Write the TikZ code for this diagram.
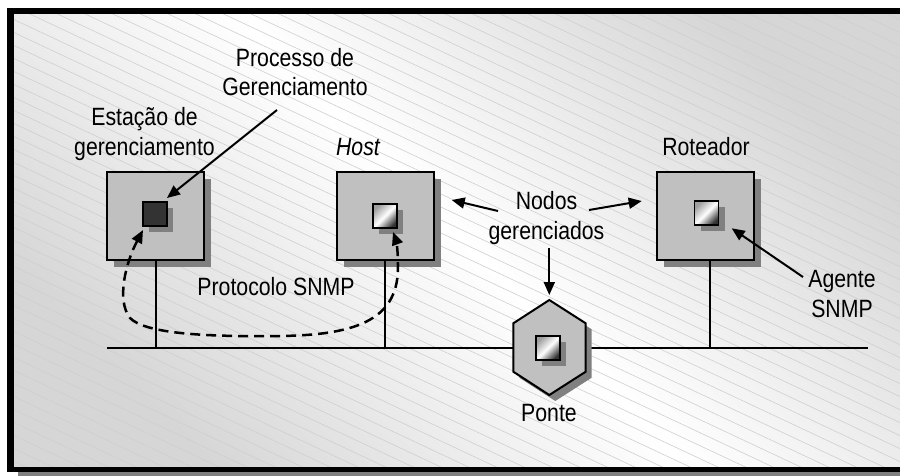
\documentclass[tikz,border=0pt]{standalone}
\usepackage{fontspec}
\setmainfont{Liberation Sans}[FakeStretch=0.85]
\usetikzlibrary{arrows.meta,shadows}

\definecolor{boxgray}{HTML}{C0C0C0}
\definecolor{shadowgray}{HTML}{808080}
\definecolor{bggray}{HTML}{D6D6D6}
\definecolor{darkchip}{HTML}{333333}
\definecolor{hatchgray}{HTML}{CFCFCF}

\begin{document}
\begin{tikzpicture}[x=1pt,y=-1pt,
  font=\fontsize{25}{29.5}\selectfont,
  device/.style={draw=black,line width=2pt,fill=boxgray,
    minimum width=97pt,minimum height=88pt,inner sep=0pt,
    drop shadow={opacity=1,fill=shadowgray,shadow xshift=7pt,shadow yshift=-7pt}},
  chip/.style={draw=black,line width=1.6pt,minimum size=24pt,inner sep=0pt,
    top color=gray!75,bottom color=black!80,middle color=white,shading angle=45,
    drop shadow={opacity=1,fill=shadowgray,shadow xshift=6pt,shadow yshift=-6pt}},
  darkchipbox/.style={chip,fill=darkchip,top color=darkchip,bottom color=darkchip,middle color=darkchip},
  wire/.style={line width=2pt,draw=black},
  label/.style={align=center,inner sep=0pt,anchor=base},
  pointer/.style={line width=2pt,-{Triangle[length=13pt,width=11pt]}},
  snmp/.style={line width=2.5pt,dash pattern=on 10pt off 6pt,
    {Triangle[length=13pt,width=11pt]}-{Triangle[length=13pt,width=11pt]}},
  hatch/.style={draw=hatchgray,line width=0.6pt}
]
\useasboundingbox (0,0) rectangle (900,475);

% frame with its shadow
\fill[shadowgray] (18,14) rectangle (910,476);
\fill[black] (7,8) rectangle (910,472);
\shade[top color=bggray,bottom color=bggray,middle color=white,shading angle=-45]
  (14,14) rectangle (910,466);
\begin{scope}
  \clip (14,14) rectangle (910,466);
  \foreach \k in {-36,...,38}
    \draw[hatch] (0,{\k*13}) -- (920,{\k*13+432});
\end{scope}

% network bus
\coordinate (busl) at (107,347.5);
\coordinate (busr) at (868,347.5);
\draw[wire] (busl) -- (busr);

% devices
\node[device] (sta) at (155.5,216) {};
\node[device] (host) at (385.5,216) {};
\node[device] (rout) at (705,216) {};

\draw[wire] (sta.south) -- (sta.south |- busl);
\draw[wire] ([xshift=-1pt]host.south) -- ([xshift=-1pt]host.south |- busl);
\draw[wire] ([xshift=5pt]rout.south) -- ([xshift=5pt]rout.south |- busl);

% bridge
\coordinate (pontetop) at (549.3,300);
\path[draw=black,line width=2pt,fill=boxgray,
  drop shadow={opacity=1,fill=shadowgray,shadow xshift=6pt,shadow yshift=-6pt}]
  (pontetop) -- (585.7,323.3) -- (585.7,371.7) -- (549.3,395)
  -- (513.3,371.7) -- (513.3,323.3) -- cycle;

% processes and agents
\node[darkchipbox] (proc) at (155,214) {};
\node[chip] (hchip) at (385,216) {};
\node[chip] (rchip) at (706.5,213) {};
\node[chip] (pchip) at (548,348) {};

% labels (two-line labels are placed by the baseline of their last line)
\node[label] (tproc) at (295,95.5) {Processo de\\Gerenciamento};
\node[label] (tsta) at (144.5,155) {Estação de\\gerenciamento};
\node[label] (thost) at (358,155) {\itshape Host};
\node[label] (trout) at (706,155) {Roteador};
\node[label] (tnod) at (546.5,239) {Nodos\\gerenciados};
\node[label] (tprot) at (276,295.7) {Protocolo SNMP};
\node[label] (tag) at (842,317) {Agente\\SNMP};
\node[label] (tponte) at (549,421.7) {Ponte};

% pointers
\coordinate (procfrom) at (277,110);
\coordinate (procto) at (167,198);
\draw[pointer] (procfrom) -- (procto);
\coordinate (nodl) at (498,211);
\coordinate (nodr) at (589,210);
\coordinate (nodd) at (549.3,248);
\coordinate (hostside) at (451.7,200);
\coordinate (routside) at (641.7,201);
\draw[pointer] (nodl) -- (hostside);
\draw[pointer] (nodr) -- (routside);
\draw[pointer] (nodd) -- ([yshift=5pt]pontetop);
\coordinate (agfrom) at (803,277);
\coordinate (agto) at (731.7,228.3);
\draw[pointer] (agfrom) -- (agto);

% SNMP exchange between manager and host
\draw[snmp] (143,230) .. controls (126,262) and (116,300) .. (130,318)
  .. controls (145,333) and (200,337) .. (280,336)
  .. controls (360,335) and (399,318) .. (398,265)
  .. controls (398,250) and (396,240) .. (393,232);
\end{tikzpicture}
\end{document}
